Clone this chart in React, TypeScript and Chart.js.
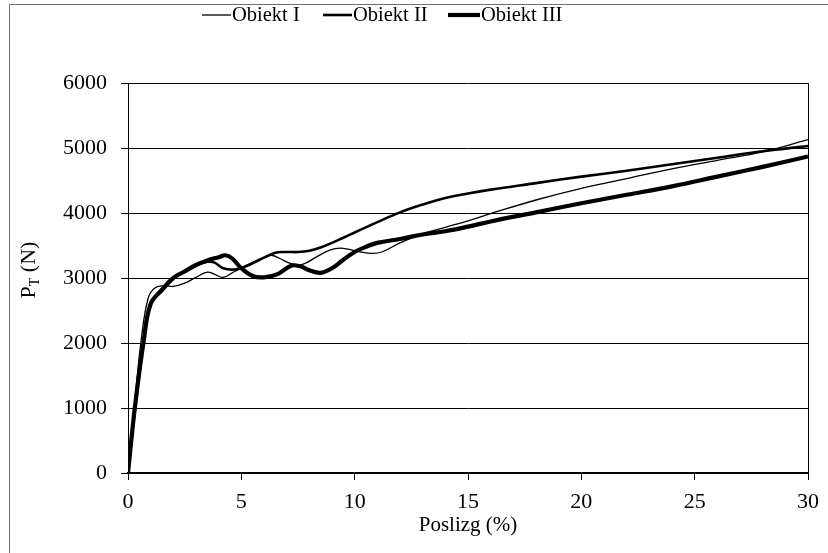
import React, { useEffect, useRef } from "react";
import { Chart, registerables } from "chart.js";

Chart.register(...registerables);

// ---- data ----
const seriesNames = ["Obiekt I", "Obiekt II", "Obiekt III"];
const xTicks = [0, 5, 10, 15, 20, 25, 30];
const yTicks = [0, 1000, 2000, 3000, 4000, 5000, 6000];

const slipI = [0, 0.3, 0.6, 0.9, 1.2, 1.6, 2.0, 2.5, 3.0, 3.5, 3.8, 4.2, 4.7, 5.2, 5.8, 6.3, 6.7, 7.2, 7.7, 8.3, 8.9, 9.4, 10, 10.7, 11.2, 12, 13, 14, 15, 16, 18, 20, 22, 24, 26, 28, 30];
const forceI = [0, 1100, 2100, 2700, 2850, 2880, 2870, 2920, 3010, 3090, 3060, 3010, 3100, 3190, 3280, 3350, 3300, 3220, 3210, 3320, 3430, 3460, 3420, 3380, 3400, 3540, 3680, 3780, 3880, 3990, 4200, 4380, 4530, 4680, 4810, 4940, 5130];

const slipII = [0, 0.3, 0.7, 1.0, 1.5, 2.0, 2.5, 3.0, 3.5, 3.8, 4.2, 4.7, 5.2, 5.8, 6.5, 7.0, 7.5, 8.0, 8.5, 9.0, 9.5, 10, 11, 12, 13, 14, 15, 16, 18, 20, 22, 24, 26, 28, 30];
const forceII = [0, 950, 2050, 2620, 2800, 2990, 3110, 3200, 3250, 3240, 3150, 3130, 3180, 3280, 3390, 3400, 3400, 3420, 3470, 3540, 3620, 3700, 3860, 4010, 4130, 4230, 4300, 4360, 4460, 4560, 4650, 4750, 4850, 4950, 5030];

const slipIII = [0, 0.3, 0.7, 1.0, 1.5, 2.0, 2.5, 3.0, 3.5, 4.0, 4.3, 4.6, 5.0, 5.5, 6.0, 6.6, 7.2, 7.6, 8.0, 8.5, 9.0, 9.5, 10, 10.5, 11, 12, 13, 14, 15, 16, 18, 20, 22, 24, 26, 28, 30];
const forceIII = [0, 1000, 2050, 2600, 2820, 3000, 3100, 3200, 3270, 3320, 3350, 3300, 3150, 3030, 3010, 3060, 3190, 3180, 3120, 3080, 3150, 3280, 3400, 3480, 3540, 3600, 3670, 3720, 3790, 3870, 4010, 4150, 4280, 4410, 4560, 4710, 4870];

const lineWidths = [1.3, 2.6, 4.2];

const FONT = "'Liberation Serif', 'Times New Roman', serif";

function toPoints(xs: number[], ys: number[]) {
  return xs.map((x, i) => ({ x, y: ys[i] }));
}

const decorPlugin = {
  id: "decor",
  afterDraw(chart: any) {
    const ctx = chart.ctx as CanvasRenderingContext2D;
    const area = chart.chartArea;
    ctx.save();
    // outer frame
    ctx.strokeStyle = "#707070";
    ctx.lineWidth = 1;
    ctx.beginPath();
    ctx.moveTo(9.5, 553);
    ctx.lineTo(9.5, 4.5);
    ctx.lineTo(828, 4.5);
    ctx.stroke();
    // right border of plot area
    ctx.strokeStyle = "#000";
    ctx.beginPath();
    ctx.moveTo(Math.round(area.right) + 0.5, area.top);
    ctx.lineTo(Math.round(area.right) + 0.5, area.bottom);
    ctx.stroke();

    // legend
    const legendX = [202, 323, 448];
    const sampleLen = [29, 29, 32];
    const legendY = 15;
    ctx.font = `20.5px ${FONT}`;
    ctx.fillStyle = "#000";
    ctx.textBaseline = "alphabetic";
    ctx.textAlign = "left";
    seriesNames.forEach((name, i) => {
      ctx.lineWidth = lineWidths[i];
      ctx.beginPath();
      ctx.moveTo(legendX[i], legendY);
      ctx.lineTo(legendX[i] + sampleLen[i], legendY);
      ctx.stroke();
      ctx.fillText(name, legendX[i] + sampleLen[i] + 1, 21);
    });

    // x title
    ctx.font = `21px ${FONT}`;
    ctx.textAlign = "center";
    ctx.textBaseline = "middle";
    ctx.fillText("Poslizg (%)", (area.left + area.right) / 2, 525);

    // y title with subscript
    ctx.translate(35, 270);
    ctx.rotate(-Math.PI / 2);
    ctx.textBaseline = "alphabetic";
    ctx.textAlign = "left";
    const mainFont = `22px ${FONT}`;
    const subFont = `14px ${FONT}`;
    ctx.font = mainFont;
    const wP = ctx.measureText("P").width;
    const wRest = ctx.measureText(" (N)").width;
    ctx.font = subFont;
    const wT = ctx.measureText("T").width;
    const total = wP + wT + wRest;
    let x0 = -total / 2;
    ctx.font = mainFont;
    ctx.fillText("P", x0, 0);
    x0 += wP;
    ctx.font = subFont;
    ctx.fillText("T", x0, 4);
    x0 += wT;
    ctx.font = mainFont;
    ctx.fillText(" (N)", x0, 0);
    ctx.restore();
  },
};

export default function App() {
  const ref = useRef<HTMLCanvasElement | null>(null);
  useEffect(() => {
    if (!ref.current) return;
    Chart.defaults.font.family = FONT;
    Chart.defaults.font.size = 20;
    Chart.defaults.color = "#000";
    const xs = [slipI, slipII, slipIII];
    const ys = [forceI, forceII, forceIII];
    const chart = new Chart(ref.current, {
      type: "line",
      data: {
        datasets: seriesNames.map((name, i) => ({
          label: name,
          data: toPoints(xs[i], ys[i]),
          borderColor: "#000",
          backgroundColor: "#000",
          borderWidth: lineWidths[i],
          pointRadius: 0,
          tension: 0.4,
          fill: false,
        })),
      },
      options: {
        responsive: false,
        animation: false,
        devicePixelRatio: 1,
        layout: { padding: { top: 83, right: 20, left: 0, bottom: 0 } },
        plugins: { legend: { display: false }, tooltip: { enabled: false } },
        scales: {
          x: {
            type: "linear",
            min: 0,
            max: 30,
            afterBuildTicks: (s: any) => {
              s.ticks = xTicks.map((v) => ({ value: v }));
            },
            afterFit: (s: any) => {
              s.height = 80;
            },
            ticks: { padding: 9, maxRotation: 0, font: { size: 22 }, callback: (v: any) => String(v) },
            grid: { drawOnChartArea: false, drawTicks: true, tickLength: 7, color: "#000", lineWidth: 1 },
            border: { display: true, color: "#000", width: 2 },
          },
          y: {
            type: "linear",
            min: 0,
            max: 6000,
            afterBuildTicks: (s: any) => {
              s.ticks = yTicks.map((v) => ({ value: v }));
            },
            afterFit: (s: any) => {
              s.width = 128;
            },
            ticks: { padding: 14, font: { size: 22 }, callback: (v: any) => String(v) },
            grid: { drawOnChartArea: true, drawTicks: true, tickLength: 7, color: "#000", lineWidth: 1 },
            border: { display: true, color: "#000", width: 1 },
          },
        },
      },
      plugins: [decorPlugin],
    } as any);
    return () => chart.destroy();
  }, []);
  return (
    <div style={{ position: "absolute", left: 0, top: 0, width: 828, height: 553, background: "#fff" }}>
      <canvas ref={ref} width={828} height={553} style={{ display: "block" }} />
    </div>
  );
}
